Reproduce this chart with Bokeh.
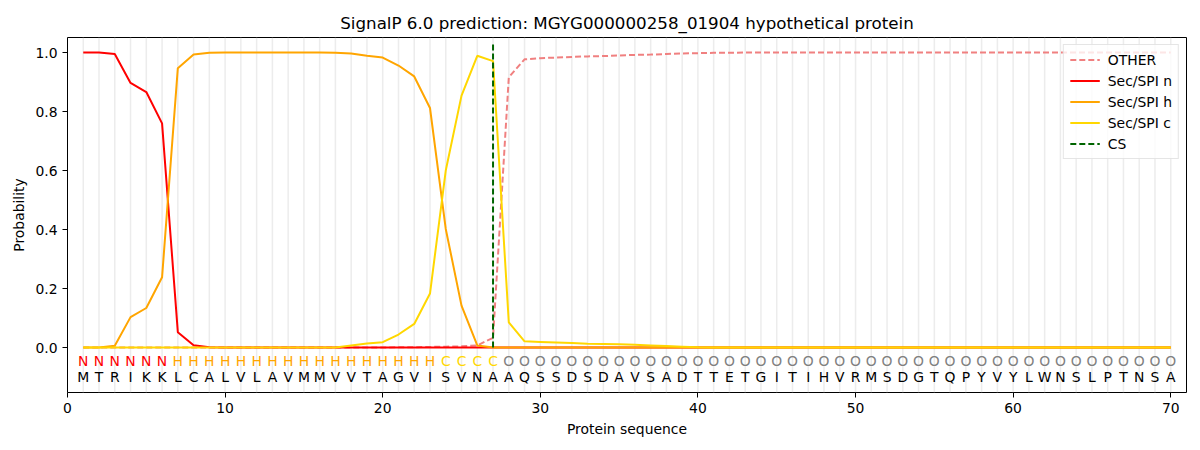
from bokeh.plotting import figure
from bokeh.models import ColumnDataSource, FixedTicker, PrintfTickFormatter, Range1d, Legend, LegendItem
from bokeh.core.properties import value
from bokeh.embed import file_html
from bokeh.resources import INLINE

sequence = list("MTRIKKLCALVLAVMMVVTAGVISVNAAQSSDSDAVSADTTETGITIHVRMSDGTQPYVYLWNSLPTNSA")
labels = list("N" * 6 + "H" * 17 + "C" * 4 + "O" * 43)
positions = list(range(1, 71))

p_other = [0.0] * 20 + [0.001, 0.001, 0.002, 0.003, 0.004, 0.007, 0.033, 0.916, 0.977, 0.981,
           0.983, 0.985, 0.987, 0.988, 0.990, 0.992, 0.993, 0.995, 0.997, 0.998,
           0.999, 0.999] + [1.0] * 28
p_n = [1.0, 1.0, 0.995, 0.897, 0.866, 0.76, 0.052, 0.008, 0.001] + [0.0] * 61
p_h = [0.0, 0.0, 0.006, 0.103, 0.134, 0.238, 0.947, 0.993, 0.999, 1.0,
       1.0, 1.0, 1.0, 1.0, 1.0, 1.0, 0.999, 0.997, 0.989, 0.983,
       0.956, 0.919, 0.812, 0.402, 0.142, 0.007] + [0.0] * 44
p_c = [0.0] * 17 + [0.007, 0.014, 0.018, 0.044, 0.08, 0.183, 0.60, 0.854, 0.989, 0.971,
       0.085, 0.021, 0.019, 0.017, 0.015, 0.013, 0.012, 0.011, 0.009, 0.007,
       0.005, 0.003, 0.001] + [0.0] * 30
cs_pos = 27

label_colors = {"N": "red", "H": "orange", "C": "gold", "O": "gray"}

p = figure(width=1192, height=442, output_backend="svg", toolbar_location=None,
           x_range=Range1d(0, 71), y_range=Range1d(-0.1525, 1.051),
           title="SignalP 6.0 prediction: MGYG000000258_01904 hypothetical protein")
p.min_border_left = 67
p.min_border_right = 6
p.min_border_top = 37
p.min_border_bottom = 50
p.xgrid.visible = False
p.ygrid.visible = False
p.outline_line_color = "black"
p.outline_line_width = 1
p.title.align = "center"
p.title.text_font = "DejaVu Sans"
p.title.text_font_size = "16.7px"
p.title.text_font_style = "normal"
p.title.text_color = "black"

for ax in (p.xaxis[0], p.yaxis[0]):
    ax.axis_label_text_font = "DejaVu Sans"
    ax.axis_label_text_font_size = "13.9px"
    ax.axis_label_text_font_style = "normal"
    ax.axis_label_text_color = "black"
    ax.major_label_text_font = "DejaVu Sans"
    ax.major_label_text_font_size = "13.9px"
    ax.major_label_text_color = "black"
    ax.minor_tick_line_color = None
    ax.major_tick_line_color = "black"
    ax.major_tick_out = 5
    ax.major_tick_in = 0
    ax.axis_line_color = None
p.xaxis.axis_label = "Protein sequence"
p.yaxis.axis_label = "Probability"
p.xaxis.ticker = FixedTicker(ticks=[0, 10, 20, 30, 40, 50, 60, 70])
p.yaxis.ticker = FixedTicker(ticks=[0.0, 0.2, 0.4, 0.6, 0.8, 1.0])
p.yaxis.formatter = PrintfTickFormatter(format="%.1f")

# light vertical guides
p.segment(x0=positions, y0=[-0.1525] * 70, x1=positions, y1=[1.051] * 70,
          line_color="#e0e0e0", line_width=1.5, line_alpha=0.6)

r_other = p.line(positions, p_other, line_color="lightcoral", line_width=2, line_dash="6 3")
r_n = p.line(positions, p_n, line_color="red", line_width=2)
r_h = p.line(positions, p_h, line_color="orange", line_width=2)
r_c = p.line(positions, p_c, line_color="gold", line_width=2)
r_cs = p.segment(x0=[cs_pos], y0=[0.0], x1=[cs_pos], y1=[1.037],
                 line_color="darkgreen", line_width=2, line_dash="6 3")

src_lab = ColumnDataSource(dict(x=positions, y=[-0.047] * 70, t=labels,
                                c=[label_colors[l] for l in labels]))
p.text(x="x", y="y", text="t", text_color="c", source=src_lab,
       text_font=value("DejaVu Sans"), text_font_size="13.9px",
       text_align="center", text_baseline="middle")
src_seq = ColumnDataSource(dict(x=positions, y=[-0.101] * 70, t=sequence))
p.text(x="x", y="y", text="t", text_color="black", source=src_seq,
       text_font=value("DejaVu Sans"), text_font_size="13.9px",
       text_align="center", text_baseline="middle")

legend = Legend(items=[
    LegendItem(label="OTHER", renderers=[r_other]),
    LegendItem(label="Sec/SPI n", renderers=[r_n]),
    LegendItem(label="Sec/SPI h", renderers=[r_h]),
    LegendItem(label="Sec/SPI c", renderers=[r_c]),
    LegendItem(label="CS", renderers=[r_cs]),
], location="top_right")
legend.label_text_font = "DejaVu Sans"
legend.label_text_font_size = "13.9px"
legend.label_text_color = "black"
legend.border_line_color = "#cccccc"
legend.background_fill_alpha = 0.8
legend.glyph_width = 30
legend.glyph_height = 17
legend.label_height = 17
legend.spacing = 4
legend.padding = 6
legend.margin = 7
legend.label_standoff = 8
p.add_layout(legend)

open("out.html", "w").write(file_html(p, INLINE))
